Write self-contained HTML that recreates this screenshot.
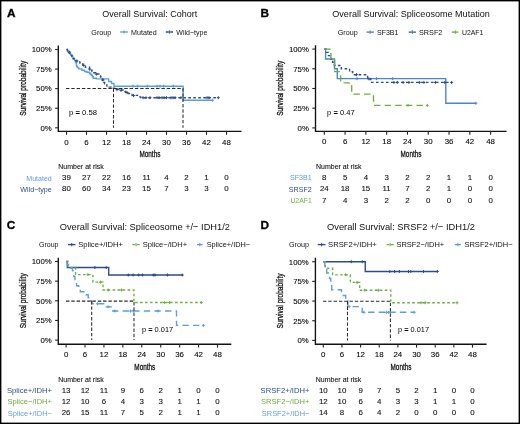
<!DOCTYPE html>
<html><head><meta charset="utf-8"><style>
html,body{margin:0;padding:0;background:#fff;}
svg{display:block;font-family:"Liberation Sans", sans-serif;will-change:transform;filter:blur(0.3px);}
</style></head><body>
<svg width="520" height="424" viewBox="0 0 520 424">
<rect x="0" y="0" width="520" height="424" fill="#fff"/>
<text x="7" y="16.8" font-size="11.8" fill="#000" font-weight="bold" stroke="#000" stroke-width="0.3">A</text>
<text x="102.25" y="17" font-size="9.8" fill="#111" textLength="95" lengthAdjust="spacingAndGlyphs">Overall Survival: Cohort</text>
<text x="91.3" y="34.5" font-size="7.6" fill="#111" textLength="20" lengthAdjust="spacingAndGlyphs">Group</text>
<line x1="120.2" y1="32" x2="127.9" y2="32" stroke="#5c9edc" stroke-width="1.4"/>
<line x1="124.05" y1="30.3" x2="124.05" y2="33.7" stroke="#5c9edc" stroke-width="1"/>
<text x="131.1" y="34.5" font-size="7.6" fill="#111" textLength="25.7" lengthAdjust="spacingAndGlyphs">Mutated</text>
<line x1="165.8" y1="32" x2="173" y2="32" stroke="#2d4c8d" stroke-width="1.4" stroke-dasharray="3,1.4"/>
<line x1="169.4" y1="30.3" x2="169.4" y2="33.7" stroke="#2d4c8d" stroke-width="1"/>
<text x="176.3" y="34.5" font-size="7.6" fill="#111" textLength="31" lengthAdjust="spacingAndGlyphs">Wild−type</text>
<path d="M58.3,45.4V131.4H241.5" fill="none" stroke="#111" stroke-width="1.35"/>
<line x1="55.1" y1="127.8" x2="58.3" y2="127.8" stroke="#222" stroke-width="1.1"/>
<text x="51.7" y="130.6" font-size="7.8" text-anchor="end" stroke="#1a1a1a" stroke-width="0.1">0%</text>
<line x1="55.1" y1="108.22" x2="58.3" y2="108.22" stroke="#222" stroke-width="1.1"/>
<text x="51.7" y="111.02" font-size="7.8" text-anchor="end" stroke="#1a1a1a" stroke-width="0.1">25%</text>
<line x1="55.1" y1="88.65" x2="58.3" y2="88.65" stroke="#222" stroke-width="1.1"/>
<text x="51.7" y="91.45" font-size="7.8" text-anchor="end" stroke="#1a1a1a" stroke-width="0.1">50%</text>
<line x1="55.1" y1="69.07" x2="58.3" y2="69.07" stroke="#222" stroke-width="1.1"/>
<text x="51.7" y="71.87" font-size="7.8" text-anchor="end" stroke="#1a1a1a" stroke-width="0.1">75%</text>
<line x1="55.1" y1="49.5" x2="58.3" y2="49.5" stroke="#222" stroke-width="1.1"/>
<text x="51.7" y="52.3" font-size="7.8" text-anchor="end" stroke="#1a1a1a" stroke-width="0.1">100%</text>
<line x1="66.5" y1="131.4" x2="66.5" y2="134.8" stroke="#222" stroke-width="1.1"/>
<text x="66.5" y="144.7" font-size="7.9" text-anchor="middle" stroke="#1a1a1a" stroke-width="0.1">0</text>
<line x1="86.5" y1="131.4" x2="86.5" y2="134.8" stroke="#222" stroke-width="1.1"/>
<text x="86.5" y="144.7" font-size="7.9" text-anchor="middle" stroke="#1a1a1a" stroke-width="0.1">6</text>
<line x1="106.5" y1="131.4" x2="106.5" y2="134.8" stroke="#222" stroke-width="1.1"/>
<text x="106.5" y="144.7" font-size="7.9" text-anchor="middle" stroke="#1a1a1a" stroke-width="0.1">12</text>
<line x1="126.5" y1="131.4" x2="126.5" y2="134.8" stroke="#222" stroke-width="1.1"/>
<text x="126.5" y="144.7" font-size="7.9" text-anchor="middle" stroke="#1a1a1a" stroke-width="0.1">18</text>
<line x1="146.5" y1="131.4" x2="146.5" y2="134.8" stroke="#222" stroke-width="1.1"/>
<text x="146.5" y="144.7" font-size="7.9" text-anchor="middle" stroke="#1a1a1a" stroke-width="0.1">24</text>
<line x1="166.5" y1="131.4" x2="166.5" y2="134.8" stroke="#222" stroke-width="1.1"/>
<text x="166.5" y="144.7" font-size="7.9" text-anchor="middle" stroke="#1a1a1a" stroke-width="0.1">30</text>
<line x1="186.5" y1="131.4" x2="186.5" y2="134.8" stroke="#222" stroke-width="1.1"/>
<text x="186.5" y="144.7" font-size="7.9" text-anchor="middle" stroke="#1a1a1a" stroke-width="0.1">36</text>
<line x1="206.5" y1="131.4" x2="206.5" y2="134.8" stroke="#222" stroke-width="1.1"/>
<text x="206.5" y="144.7" font-size="7.9" text-anchor="middle" stroke="#1a1a1a" stroke-width="0.1">42</text>
<line x1="226.5" y1="131.4" x2="226.5" y2="134.8" stroke="#222" stroke-width="1.1"/>
<text x="226.5" y="144.7" font-size="7.9" text-anchor="middle" stroke="#1a1a1a" stroke-width="0.1">48</text>
<text x="149.9" y="157.4" font-size="9.6" text-anchor="middle" fill="#111" textLength="21" lengthAdjust="spacingAndGlyphs" stroke="#111" stroke-width="0.3">Months</text>
<text x="0" y="0" font-size="9.6" stroke="#111" stroke-width="0.3" text-anchor="middle" textLength="55" lengthAdjust="spacingAndGlyphs" fill="#111" transform="translate(26.3,88.3) rotate(-90)">Survival probability</text>
<path d="M66.5,49.5H67.35V50.6H68.05V51.7H68.75V52.8H69.67V53.93H70.8V55.07H71.93V56.2H72.92V57.6H73.75V59H74.58V60.4H75.33V61.7H75.97V63H76.37V64.13H76.5V65.27H76.63V66.4H77.35V67.65H78.65V68.9H81.8V70.2H84.4V71.5H86.9V72.3H89.5V73.2H90.12V74.25H91.38V75.3H92.42V76.8H93.28V78.3H96.3V78.9H108.7V81.5H111.5V83.5H113.9V86.2H183.1V100.3H212.7" fill="none" stroke="#5c9edc" stroke-width="1.38"/>
<path d="M131.5,86.2H134.5M133,84.7V87.7" stroke="#5c9edc" stroke-width="1"/>
<path d="M136.2,86.2H139.2M137.7,84.7V87.7" stroke="#5c9edc" stroke-width="1"/>
<path d="M145.8,86.2H148.8M147.3,84.7V87.7" stroke="#5c9edc" stroke-width="1"/>
<path d="M155.5,86.2H158.5M157,84.7V87.7" stroke="#5c9edc" stroke-width="1"/>
<path d="M158.5,86.2H161.5M160,84.7V87.7" stroke="#5c9edc" stroke-width="1"/>
<path d="M162.2,86.2H165.2M163.7,84.7V87.7" stroke="#5c9edc" stroke-width="1"/>
<path d="M171.8,86.2H174.8M173.3,84.7V87.7" stroke="#5c9edc" stroke-width="1"/>
<path d="M211.2,100.3H214.2M212.7,98.8V101.8" stroke="#5c9edc" stroke-width="1"/>
<path d="M66.5,49.5H67.53V50.7H68.57V51.9H69.62V53.2H70.67V54.5H71.46V55.55H71.99V56.6H72.51V57.65H73.04V58.7H74.15V59.8H75.85V60.9H77.78V61.95H79.92V63H81.62V64.05H82.88V65.1H84.15V66.15H85.45V67.2H89.5V68.9H90.35V70.2H92.05V71.5H93.75V72.75H95.45V74H98.8V75.7H100.5V76.7H100.88V77.87H101.64V79.04H102.39V80.21H103.15V81.39H103.91V82.56H104.66V83.73H105.42V84.9H106.92V86.03H109.15V87.17H111.38V88.3H114.6V89.2H119.2V90H124.6V91.5H125.75V92.5H128.05V93.5H130.15V94.45H132.05V95.4H138.5V96.9H140.8V97.7H218.3" fill="none" stroke="#2d4c8d" stroke-width="1.38" stroke-dasharray="2.6,2.4"/>
<path d="M141.5,97.7H144.5M143,96.2V99.2" stroke="#2d4c8d" stroke-width="1"/>
<path d="M144.5,97.7H147.5M146,96.2V99.2" stroke="#2d4c8d" stroke-width="1"/>
<path d="M148.5,97.7H151.5M150,96.2V99.2" stroke="#2d4c8d" stroke-width="1"/>
<path d="M155.5,97.7H158.5M157,96.2V99.2" stroke="#2d4c8d" stroke-width="1"/>
<path d="M157.5,97.7H160.5M159,96.2V99.2" stroke="#2d4c8d" stroke-width="1"/>
<path d="M160.5,97.7H163.5M162,96.2V99.2" stroke="#2d4c8d" stroke-width="1"/>
<path d="M162.5,97.7H165.5M164,96.2V99.2" stroke="#2d4c8d" stroke-width="1"/>
<path d="M165,97.7H168M166.5,96.2V99.2" stroke="#2d4c8d" stroke-width="1"/>
<path d="M169.5,97.7H172.5M171,96.2V99.2" stroke="#2d4c8d" stroke-width="1"/>
<path d="M171.5,97.7H174.5M173,96.2V99.2" stroke="#2d4c8d" stroke-width="1"/>
<path d="M173.5,97.7H176.5M175,96.2V99.2" stroke="#2d4c8d" stroke-width="1"/>
<path d="M179.5,97.7H182.5M181,96.2V99.2" stroke="#2d4c8d" stroke-width="1"/>
<path d="M205.5,97.7H208.5M207,96.2V99.2" stroke="#2d4c8d" stroke-width="1"/>
<path d="M207.5,97.7H210.5M209,96.2V99.2" stroke="#2d4c8d" stroke-width="1"/>
<path d="M216.8,97.7H219.8M218.3,96.2V99.2" stroke="#2d4c8d" stroke-width="1"/>
<path d="M115.5,89.6H118.5M117,88.1V91.1" stroke="#2d4c8d" stroke-width="1"/>
<path d="M119.5,90.4H122.5M121,88.9V91.9" stroke="#2d4c8d" stroke-width="1"/>
<path d="M125.5,92.5H128.5M127,91V94" stroke="#2d4c8d" stroke-width="1"/>
<path d="M132,95.6H135M133.5,94.1V97.1" stroke="#2d4c8d" stroke-width="1"/>
<path d="M67.8,52.2H70.8M69.3,50.7V53.7" stroke="#2d4c8d" stroke-width="1"/>
<path d="M75.4,61H78.4M76.9,59.5V62.5" stroke="#2d4c8d" stroke-width="1"/>
<path d="M82.2,65.3H85.2M83.7,63.8V66.8" stroke="#2d4c8d" stroke-width="1"/>
<path d="M88.2,69.1H91.2M89.7,67.6V70.6" stroke="#2d4c8d" stroke-width="1"/>
<path d="M94.8,74.1H97.8M96.3,72.6V75.6" stroke="#2d4c8d" stroke-width="1"/>
<path d="M101.5,80H104.5M103,78.5V81.5" stroke="#2d4c8d" stroke-width="1"/>
<path d="M66,88.5H183V127.8" fill="none" stroke="#2a2a2a" stroke-width="1.05" stroke-dasharray="3.4,1.9"/>
<path d="M113.5,88.5V127.8" fill="none" stroke="#2a2a2a" stroke-width="1.05" stroke-dasharray="3.4,1.9"/>
<text x="69" y="114.5" font-size="7.5" textLength="28" lengthAdjust="spacingAndGlyphs">p <tspan font-weight="bold">=</tspan> 0.58</text>
<text x="58.3" y="168.9" font-size="7.4" fill="#111" stroke="#111" stroke-width="0.1" textLength="45.5" lengthAdjust="spacingAndGlyphs">Number at risk</text>
<text x="51.8" y="180.5" font-size="7.7" text-anchor="end" fill="#5c9edc" textLength="25.5" lengthAdjust="spacingAndGlyphs">Mutated</text>
<text x="66.5" y="180.2" font-size="7.9" text-anchor="middle" fill="#111" stroke="#111" stroke-width="0.1">39</text>
<text x="86.5" y="180.2" font-size="7.9" text-anchor="middle" fill="#111" stroke="#111" stroke-width="0.1">27</text>
<text x="106.5" y="180.2" font-size="7.9" text-anchor="middle" fill="#111" stroke="#111" stroke-width="0.1">22</text>
<text x="126.5" y="180.2" font-size="7.9" text-anchor="middle" fill="#111" stroke="#111" stroke-width="0.1">16</text>
<text x="146.5" y="180.2" font-size="7.9" text-anchor="middle" fill="#111" stroke="#111" stroke-width="0.1">11</text>
<text x="166.5" y="180.2" font-size="7.9" text-anchor="middle" fill="#111" stroke="#111" stroke-width="0.1">4</text>
<text x="186.5" y="180.2" font-size="7.9" text-anchor="middle" fill="#111" stroke="#111" stroke-width="0.1">2</text>
<text x="206.5" y="180.2" font-size="7.9" text-anchor="middle" fill="#111" stroke="#111" stroke-width="0.1">1</text>
<text x="226.5" y="180.2" font-size="7.9" text-anchor="middle" fill="#111" stroke="#111" stroke-width="0.1">0</text>
<text x="51.8" y="191.7" font-size="7.7" text-anchor="end" fill="#2d4c8d" textLength="31.5" lengthAdjust="spacingAndGlyphs">Wild−type</text>
<text x="66.5" y="191.4" font-size="7.9" text-anchor="middle" fill="#111" stroke="#111" stroke-width="0.1">80</text>
<text x="86.5" y="191.4" font-size="7.9" text-anchor="middle" fill="#111" stroke="#111" stroke-width="0.1">60</text>
<text x="106.5" y="191.4" font-size="7.9" text-anchor="middle" fill="#111" stroke="#111" stroke-width="0.1">34</text>
<text x="126.5" y="191.4" font-size="7.9" text-anchor="middle" fill="#111" stroke="#111" stroke-width="0.1">23</text>
<text x="146.5" y="191.4" font-size="7.9" text-anchor="middle" fill="#111" stroke="#111" stroke-width="0.1">15</text>
<text x="166.5" y="191.4" font-size="7.9" text-anchor="middle" fill="#111" stroke="#111" stroke-width="0.1">7</text>
<text x="186.5" y="191.4" font-size="7.9" text-anchor="middle" fill="#111" stroke="#111" stroke-width="0.1">3</text>
<text x="206.5" y="191.4" font-size="7.9" text-anchor="middle" fill="#111" stroke="#111" stroke-width="0.1">3</text>
<text x="226.5" y="191.4" font-size="7.9" text-anchor="middle" fill="#111" stroke="#111" stroke-width="0.1">0</text>
<text x="260.6" y="16.8" font-size="11.8" fill="#000" font-weight="bold" stroke="#000" stroke-width="0.3">B</text>
<text x="332.3" y="17.2" font-size="9.8" fill="#111" textLength="157.5" lengthAdjust="spacingAndGlyphs">Overall Survival: Spliceosome Mutation</text>
<text x="337.7" y="34.6" font-size="7.6" fill="#111" textLength="20" lengthAdjust="spacingAndGlyphs">Group</text>
<line x1="366.5" y1="32.1" x2="373.8" y2="32.1" stroke="#4a86c9" stroke-width="1.4"/>
<line x1="370.15" y1="30.4" x2="370.15" y2="33.8" stroke="#4a86c9" stroke-width="1"/>
<text x="376.9" y="34.6" font-size="7.6" fill="#111" textLength="21.6" lengthAdjust="spacingAndGlyphs">SF3B1</text>
<line x1="408.7" y1="32.1" x2="415.9" y2="32.1" stroke="#2d4c8d" stroke-width="1.4" stroke-dasharray="3,1.4"/>
<line x1="412.3" y1="30.4" x2="412.3" y2="33.8" stroke="#2d4c8d" stroke-width="1"/>
<text x="419" y="34.6" font-size="7.6" fill="#111" textLength="23.4" lengthAdjust="spacingAndGlyphs">SRSF2</text>
<line x1="451.9" y1="32.1" x2="458.8" y2="32.1" stroke="#6cae3f" stroke-width="1.4" stroke-dasharray="6.4,4.2"/>
<line x1="455.35" y1="30.4" x2="455.35" y2="33.8" stroke="#6cae3f" stroke-width="1"/>
<text x="461.9" y="34.6" font-size="7.6" fill="#111" textLength="21.5" lengthAdjust="spacingAndGlyphs">U2AF1</text>
<path d="M315.5,45.3V131.35H506.5" fill="none" stroke="#111" stroke-width="1.35"/>
<line x1="312.3" y1="127.9" x2="315.5" y2="127.9" stroke="#222" stroke-width="1.1"/>
<text x="308.9" y="130.7" font-size="7.8" text-anchor="end" stroke="#1a1a1a" stroke-width="0.1">0%</text>
<line x1="312.3" y1="108.2" x2="315.5" y2="108.2" stroke="#222" stroke-width="1.1"/>
<text x="308.9" y="111" font-size="7.8" text-anchor="end" stroke="#1a1a1a" stroke-width="0.1">25%</text>
<line x1="312.3" y1="88.5" x2="315.5" y2="88.5" stroke="#222" stroke-width="1.1"/>
<text x="308.9" y="91.3" font-size="7.8" text-anchor="end" stroke="#1a1a1a" stroke-width="0.1">50%</text>
<line x1="312.3" y1="68.8" x2="315.5" y2="68.8" stroke="#222" stroke-width="1.1"/>
<text x="308.9" y="71.6" font-size="7.8" text-anchor="end" stroke="#1a1a1a" stroke-width="0.1">75%</text>
<line x1="312.3" y1="49.1" x2="315.5" y2="49.1" stroke="#222" stroke-width="1.1"/>
<text x="308.9" y="51.9" font-size="7.8" text-anchor="end" stroke="#1a1a1a" stroke-width="0.1">100%</text>
<line x1="324.3" y1="131.35" x2="324.3" y2="134.75" stroke="#222" stroke-width="1.1"/>
<text x="324.3" y="144.25" font-size="7.9" text-anchor="middle" stroke="#1a1a1a" stroke-width="0.1">0</text>
<line x1="345.09" y1="131.35" x2="345.09" y2="134.75" stroke="#222" stroke-width="1.1"/>
<text x="345.09" y="144.25" font-size="7.9" text-anchor="middle" stroke="#1a1a1a" stroke-width="0.1">6</text>
<line x1="365.88" y1="131.35" x2="365.88" y2="134.75" stroke="#222" stroke-width="1.1"/>
<text x="365.88" y="144.25" font-size="7.9" text-anchor="middle" stroke="#1a1a1a" stroke-width="0.1">12</text>
<line x1="386.67" y1="131.35" x2="386.67" y2="134.75" stroke="#222" stroke-width="1.1"/>
<text x="386.67" y="144.25" font-size="7.9" text-anchor="middle" stroke="#1a1a1a" stroke-width="0.1">18</text>
<line x1="407.46" y1="131.35" x2="407.46" y2="134.75" stroke="#222" stroke-width="1.1"/>
<text x="407.46" y="144.25" font-size="7.9" text-anchor="middle" stroke="#1a1a1a" stroke-width="0.1">24</text>
<line x1="428.25" y1="131.35" x2="428.25" y2="134.75" stroke="#222" stroke-width="1.1"/>
<text x="428.25" y="144.25" font-size="7.9" text-anchor="middle" stroke="#1a1a1a" stroke-width="0.1">30</text>
<line x1="449.04" y1="131.35" x2="449.04" y2="134.75" stroke="#222" stroke-width="1.1"/>
<text x="449.04" y="144.25" font-size="7.9" text-anchor="middle" stroke="#1a1a1a" stroke-width="0.1">36</text>
<line x1="469.83" y1="131.35" x2="469.83" y2="134.75" stroke="#222" stroke-width="1.1"/>
<text x="469.83" y="144.25" font-size="7.9" text-anchor="middle" stroke="#1a1a1a" stroke-width="0.1">42</text>
<line x1="490.62" y1="131.35" x2="490.62" y2="134.75" stroke="#222" stroke-width="1.1"/>
<text x="490.62" y="144.25" font-size="7.9" text-anchor="middle" stroke="#1a1a1a" stroke-width="0.1">48</text>
<text x="411" y="157.35" font-size="9.6" text-anchor="middle" fill="#111" textLength="21" lengthAdjust="spacingAndGlyphs" stroke="#111" stroke-width="0.3">Months</text>
<text x="0" y="0" font-size="9.6" stroke="#111" stroke-width="0.3" text-anchor="middle" textLength="55" lengthAdjust="spacingAndGlyphs" fill="#111" transform="translate(283.4,88.3) rotate(-90)">Survival probability</text>
<path d="M324.3,49.1H325.6V58.95H334.5V68.8H337.3V78.65H445.8V103.28H475.8" fill="none" stroke="#4a86c9" stroke-width="1.38"/>
<path d="M355.5,78.65H358.5M357,77.15V80.15" stroke="#4a86c9" stroke-width="1"/>
<path d="M375,78.65H378M376.5,77.15V80.15" stroke="#4a86c9" stroke-width="1"/>
<path d="M391.2,78.65H394.2M392.7,77.15V80.15" stroke="#4a86c9" stroke-width="1"/>
<path d="M474.3,103.28H477.3M475.8,101.78V104.78" stroke="#4a86c9" stroke-width="1"/>
<path d="M324.3,49.1H326.38V52.41H328.46V55.64H330.88V58.95H332.62V62.26H334.35V65.49H341.28V68.8H349.59V71.79H352.71V74.71H367.61V78.89H370.73V82.43H451.6" fill="none" stroke="#2d4c8d" stroke-width="1.38" stroke-dasharray="2.6,2.4"/>
<path d="M355,74.71H358M356.5,73.21V76.21" stroke="#2d4c8d" stroke-width="1"/>
<path d="M367.4,78.89H370.4M368.9,77.39V80.39" stroke="#2d4c8d" stroke-width="1"/>
<path d="M392.4,82.43H395.4M393.9,80.93V83.93" stroke="#2d4c8d" stroke-width="1"/>
<path d="M395.8,82.43H398.8M397.3,80.93V83.93" stroke="#2d4c8d" stroke-width="1"/>
<path d="M401.6,82.43H404.6M403.1,80.93V83.93" stroke="#2d4c8d" stroke-width="1"/>
<path d="M407.4,82.43H410.4M408.9,80.93V83.93" stroke="#2d4c8d" stroke-width="1"/>
<path d="M417.8,82.43H420.8M419.3,80.93V83.93" stroke="#2d4c8d" stroke-width="1"/>
<path d="M422.4,82.43H425.4M423.9,80.93V83.93" stroke="#2d4c8d" stroke-width="1"/>
<path d="M433.9,82.43H436.9M435.4,80.93V83.93" stroke="#2d4c8d" stroke-width="1"/>
<path d="M443.2,82.43H446.2M444.7,80.93V83.93" stroke="#2d4c8d" stroke-width="1"/>
<path d="M450.1,82.43H453.1M451.6,80.93V83.93" stroke="#2d4c8d" stroke-width="1"/>
<path d="M324.3,49.1H330.88V60.37H334.69V71.64H340.59V82.91H351.67V94.09H373.5V105.36H427.3" fill="none" stroke="#6cae3f" stroke-width="1.38" stroke-dasharray="6.4,4.2"/>
<path d="M406.5,105.36H409.5M408,103.86V106.86" stroke="#6cae3f" stroke-width="1"/>
<path d="M425.8,105.36H428.8M427.3,103.86V106.86" stroke="#6cae3f" stroke-width="1"/>
<text x="327.1" y="114.5" font-size="7.5" textLength="27.5" lengthAdjust="spacingAndGlyphs">p <tspan font-weight="bold">=</tspan> 0.47</text>
<text x="316" y="169.2" font-size="7.4" fill="#111" stroke="#111" stroke-width="0.1" textLength="45.5" lengthAdjust="spacingAndGlyphs">Number at risk</text>
<text x="311.8" y="180.4" font-size="7.7" text-anchor="end" fill="#5c9edc" textLength="21.8" lengthAdjust="spacingAndGlyphs">SF3B1</text>
<text x="324.3" y="180.1" font-size="7.9" text-anchor="middle" fill="#111" stroke="#111" stroke-width="0.1">8</text>
<text x="345.09" y="180.1" font-size="7.9" text-anchor="middle" fill="#111" stroke="#111" stroke-width="0.1">5</text>
<text x="365.88" y="180.1" font-size="7.9" text-anchor="middle" fill="#111" stroke="#111" stroke-width="0.1">4</text>
<text x="386.67" y="180.1" font-size="7.9" text-anchor="middle" fill="#111" stroke="#111" stroke-width="0.1">3</text>
<text x="407.46" y="180.1" font-size="7.9" text-anchor="middle" fill="#111" stroke="#111" stroke-width="0.1">2</text>
<text x="428.25" y="180.1" font-size="7.9" text-anchor="middle" fill="#111" stroke="#111" stroke-width="0.1">2</text>
<text x="449.04" y="180.1" font-size="7.9" text-anchor="middle" fill="#111" stroke="#111" stroke-width="0.1">1</text>
<text x="469.83" y="180.1" font-size="7.9" text-anchor="middle" fill="#111" stroke="#111" stroke-width="0.1">1</text>
<text x="490.62" y="180.1" font-size="7.9" text-anchor="middle" fill="#111" stroke="#111" stroke-width="0.1">0</text>
<text x="311.8" y="191.7" font-size="7.7" text-anchor="end" fill="#2d4c8d" textLength="23" lengthAdjust="spacingAndGlyphs">SRSF2</text>
<text x="324.3" y="191.4" font-size="7.9" text-anchor="middle" fill="#111" stroke="#111" stroke-width="0.1">24</text>
<text x="345.09" y="191.4" font-size="7.9" text-anchor="middle" fill="#111" stroke="#111" stroke-width="0.1">18</text>
<text x="365.88" y="191.4" font-size="7.9" text-anchor="middle" fill="#111" stroke="#111" stroke-width="0.1">15</text>
<text x="386.67" y="191.4" font-size="7.9" text-anchor="middle" fill="#111" stroke="#111" stroke-width="0.1">11</text>
<text x="407.46" y="191.4" font-size="7.9" text-anchor="middle" fill="#111" stroke="#111" stroke-width="0.1">7</text>
<text x="428.25" y="191.4" font-size="7.9" text-anchor="middle" fill="#111" stroke="#111" stroke-width="0.1">2</text>
<text x="449.04" y="191.4" font-size="7.9" text-anchor="middle" fill="#111" stroke="#111" stroke-width="0.1">1</text>
<text x="469.83" y="191.4" font-size="7.9" text-anchor="middle" fill="#111" stroke="#111" stroke-width="0.1">0</text>
<text x="490.62" y="191.4" font-size="7.9" text-anchor="middle" fill="#111" stroke="#111" stroke-width="0.1">0</text>
<text x="311.8" y="202.8" font-size="7.7" text-anchor="end" fill="#6cae3f" textLength="21.4" lengthAdjust="spacingAndGlyphs">U2AF1</text>
<text x="324.3" y="202.5" font-size="7.9" text-anchor="middle" fill="#111" stroke="#111" stroke-width="0.1">7</text>
<text x="345.09" y="202.5" font-size="7.9" text-anchor="middle" fill="#111" stroke="#111" stroke-width="0.1">4</text>
<text x="365.88" y="202.5" font-size="7.9" text-anchor="middle" fill="#111" stroke="#111" stroke-width="0.1">3</text>
<text x="386.67" y="202.5" font-size="7.9" text-anchor="middle" fill="#111" stroke="#111" stroke-width="0.1">2</text>
<text x="407.46" y="202.5" font-size="7.9" text-anchor="middle" fill="#111" stroke="#111" stroke-width="0.1">2</text>
<text x="428.25" y="202.5" font-size="7.9" text-anchor="middle" fill="#111" stroke="#111" stroke-width="0.1">0</text>
<text x="449.04" y="202.5" font-size="7.9" text-anchor="middle" fill="#111" stroke="#111" stroke-width="0.1">0</text>
<text x="469.83" y="202.5" font-size="7.9" text-anchor="middle" fill="#111" stroke="#111" stroke-width="0.1">0</text>
<text x="490.62" y="202.5" font-size="7.9" text-anchor="middle" fill="#111" stroke="#111" stroke-width="0.1">0</text>
<text x="6.7" y="229.1" font-size="11.8" fill="#000" font-weight="bold" stroke="#000" stroke-width="0.3">C</text>
<text x="59.7" y="229.8" font-size="9.8" fill="#111" textLength="170.2" lengthAdjust="spacingAndGlyphs">Overall Survival: Spliceosome +/− IDH1/2</text>
<text x="38.9" y="247.1" font-size="7.6" fill="#111" textLength="19.6" lengthAdjust="spacingAndGlyphs">Group</text>
<line x1="68" y1="244.6" x2="75.5" y2="244.6" stroke="#2d4c8d" stroke-width="1.4"/>
<line x1="71.75" y1="242.9" x2="71.75" y2="246.3" stroke="#2d4c8d" stroke-width="1"/>
<text x="78.2" y="247.1" font-size="7.6" fill="#111" textLength="44.8" lengthAdjust="spacingAndGlyphs">Splice+/IDH+</text>
<line x1="132.4" y1="244.6" x2="139.7" y2="244.6" stroke="#6cae3f" stroke-width="1.4" stroke-dasharray="3,1.4"/>
<line x1="136.05" y1="242.9" x2="136.05" y2="246.3" stroke="#6cae3f" stroke-width="1"/>
<text x="142.7" y="247.1" font-size="7.6" fill="#111" textLength="44.5" lengthAdjust="spacingAndGlyphs">Splice−/IDH+</text>
<line x1="197" y1="244.6" x2="202.6" y2="244.6" stroke="#5c9edc" stroke-width="1.4" stroke-dasharray="6.4,4.2"/>
<line x1="199.8" y1="242.9" x2="199.8" y2="246.3" stroke="#5c9edc" stroke-width="1"/>
<text x="206.7" y="247.1" font-size="7.6" fill="#111" textLength="43.5" lengthAdjust="spacingAndGlyphs">Splice+/IDH−</text>
<path d="M58.3,257.8V344.2H231.3" fill="none" stroke="#111" stroke-width="1.35"/>
<line x1="55.1" y1="340.1" x2="58.3" y2="340.1" stroke="#222" stroke-width="1.1"/>
<text x="51.7" y="342.9" font-size="7.8" text-anchor="end" stroke="#1a1a1a" stroke-width="0.1">0%</text>
<line x1="55.1" y1="320.45" x2="58.3" y2="320.45" stroke="#222" stroke-width="1.1"/>
<text x="51.7" y="323.25" font-size="7.8" text-anchor="end" stroke="#1a1a1a" stroke-width="0.1">25%</text>
<line x1="55.1" y1="300.8" x2="58.3" y2="300.8" stroke="#222" stroke-width="1.1"/>
<text x="51.7" y="303.6" font-size="7.8" text-anchor="end" stroke="#1a1a1a" stroke-width="0.1">50%</text>
<line x1="55.1" y1="281.15" x2="58.3" y2="281.15" stroke="#222" stroke-width="1.1"/>
<text x="51.7" y="283.95" font-size="7.8" text-anchor="end" stroke="#1a1a1a" stroke-width="0.1">75%</text>
<line x1="55.1" y1="261.5" x2="58.3" y2="261.5" stroke="#222" stroke-width="1.1"/>
<text x="51.7" y="264.3" font-size="7.8" text-anchor="end" stroke="#1a1a1a" stroke-width="0.1">100%</text>
<line x1="66.1" y1="344.2" x2="66.1" y2="347.6" stroke="#222" stroke-width="1.1"/>
<text x="66.1" y="356.9" font-size="7.9" text-anchor="middle" stroke="#1a1a1a" stroke-width="0.1">0</text>
<line x1="85.02" y1="344.2" x2="85.02" y2="347.6" stroke="#222" stroke-width="1.1"/>
<text x="85.02" y="356.9" font-size="7.9" text-anchor="middle" stroke="#1a1a1a" stroke-width="0.1">6</text>
<line x1="103.95" y1="344.2" x2="103.95" y2="347.6" stroke="#222" stroke-width="1.1"/>
<text x="103.95" y="356.9" font-size="7.9" text-anchor="middle" stroke="#1a1a1a" stroke-width="0.1">12</text>
<line x1="122.87" y1="344.2" x2="122.87" y2="347.6" stroke="#222" stroke-width="1.1"/>
<text x="122.87" y="356.9" font-size="7.9" text-anchor="middle" stroke="#1a1a1a" stroke-width="0.1">18</text>
<line x1="141.8" y1="344.2" x2="141.8" y2="347.6" stroke="#222" stroke-width="1.1"/>
<text x="141.8" y="356.9" font-size="7.9" text-anchor="middle" stroke="#1a1a1a" stroke-width="0.1">24</text>
<line x1="160.72" y1="344.2" x2="160.72" y2="347.6" stroke="#222" stroke-width="1.1"/>
<text x="160.72" y="356.9" font-size="7.9" text-anchor="middle" stroke="#1a1a1a" stroke-width="0.1">30</text>
<line x1="179.64" y1="344.2" x2="179.64" y2="347.6" stroke="#222" stroke-width="1.1"/>
<text x="179.64" y="356.9" font-size="7.9" text-anchor="middle" stroke="#1a1a1a" stroke-width="0.1">36</text>
<line x1="198.57" y1="344.2" x2="198.57" y2="347.6" stroke="#222" stroke-width="1.1"/>
<text x="198.57" y="356.9" font-size="7.9" text-anchor="middle" stroke="#1a1a1a" stroke-width="0.1">42</text>
<line x1="217.49" y1="344.2" x2="217.49" y2="347.6" stroke="#222" stroke-width="1.1"/>
<text x="217.49" y="356.9" font-size="7.9" text-anchor="middle" stroke="#1a1a1a" stroke-width="0.1">48</text>
<text x="144.8" y="370.2" font-size="9.6" text-anchor="middle" fill="#111" textLength="21" lengthAdjust="spacingAndGlyphs" stroke="#111" stroke-width="0.3">Months</text>
<text x="0" y="0" font-size="9.6" stroke="#111" stroke-width="0.3" text-anchor="middle" textLength="55" lengthAdjust="spacingAndGlyphs" fill="#111" transform="translate(26.3,300.8) rotate(-90)">Survival probability</text>
<path d="M66.1,261.5H67.36V267.55H108.68V275.02H182.3" fill="none" stroke="#2d4c8d" stroke-width="1.38"/>
<path d="M93.4,267.55H96.4M94.9,266.05V269.05" stroke="#2d4c8d" stroke-width="1"/>
<path d="M104.7,267.55H107.7M106.2,266.05V269.05" stroke="#2d4c8d" stroke-width="1"/>
<path d="M126.8,275.02H129.8M128.3,273.52V276.52" stroke="#2d4c8d" stroke-width="1"/>
<path d="M131.6,275.02H134.6M133.1,273.52V276.52" stroke="#2d4c8d" stroke-width="1"/>
<path d="M137.3,275.02H140.3M138.8,273.52V276.52" stroke="#2d4c8d" stroke-width="1"/>
<path d="M141,275.02H144M142.5,273.52V276.52" stroke="#2d4c8d" stroke-width="1"/>
<path d="M151.8,275.02H154.8M153.3,273.52V276.52" stroke="#2d4c8d" stroke-width="1"/>
<path d="M153.5,275.02H156.5M155,273.52V276.52" stroke="#2d4c8d" stroke-width="1"/>
<path d="M166,275.02H169M167.5,273.52V276.52" stroke="#2d4c8d" stroke-width="1"/>
<path d="M180.8,275.02H183.8M182.3,273.52V276.52" stroke="#2d4c8d" stroke-width="1"/>
<path d="M66.1,261.5H67.99V268.02H75.56V274.63H92.91V282.17H103V290.03H133.91V302.53H201.3" fill="none" stroke="#6cae3f" stroke-width="1.38" stroke-dasharray="2.6,2.4"/>
<path d="M86.4,274.63H89.4M87.9,273.13V276.13" stroke="#6cae3f" stroke-width="1"/>
<path d="M98.9,282.17H101.9M100.4,280.67V283.67" stroke="#6cae3f" stroke-width="1"/>
<path d="M106.6,290.03H109.6M108.1,288.53V291.53" stroke="#6cae3f" stroke-width="1"/>
<path d="M120,290.03H123M121.5,288.53V291.53" stroke="#6cae3f" stroke-width="1"/>
<path d="M162.8,302.53H165.8M164.3,301.03V304.03" stroke="#6cae3f" stroke-width="1"/>
<path d="M168.1,302.53H171.1M169.6,301.03V304.03" stroke="#6cae3f" stroke-width="1"/>
<path d="M199.8,302.53H202.8M201.3,301.03V304.03" stroke="#6cae3f" stroke-width="1"/>
<path d="M66.1,261.5H67.05V264.49H68.62V267.55H72.41V270.54H73.04V273.6H73.83V276.59H74.93V279.66H75.56V282.64H76.51V285.71H78.72V288.7H80.29V291.76H85.97V294.75H88.18V297.81H91.02V300.8H91.65V303.79H104.89V306.85H111.2V311.02H176.49V325.4H203.4" fill="none" stroke="#5c9edc" stroke-width="1.38" stroke-dasharray="6.4,4.2"/>
<path d="M96,303.79H99M97.5,302.29V305.29" stroke="#5c9edc" stroke-width="1"/>
<path d="M106.6,306.85H109.6M108.1,305.35V308.35" stroke="#5c9edc" stroke-width="1"/>
<path d="M113.3,311.02H116.3M114.8,309.52V312.52" stroke="#5c9edc" stroke-width="1"/>
<path d="M129,311.02H132M130.5,309.52V312.52" stroke="#5c9edc" stroke-width="1"/>
<path d="M131.5,311.02H134.5M133,309.52V312.52" stroke="#5c9edc" stroke-width="1"/>
<path d="M156.5,311.02H159.5M158,309.52V312.52" stroke="#5c9edc" stroke-width="1"/>
<path d="M201.9,325.4H204.9M203.4,323.9V326.9" stroke="#5c9edc" stroke-width="1"/>
<path d="M66,301.1H134V340.1" fill="none" stroke="#2a2a2a" stroke-width="1.05" stroke-dasharray="3.4,1.9"/>
<path d="M91.7,301.1V340.1" fill="none" stroke="#2a2a2a" stroke-width="1.05" stroke-dasharray="3.4,1.9"/>
<text x="142" y="331.7" font-size="7.5" textLength="31.2" lengthAdjust="spacingAndGlyphs">p <tspan font-weight="bold">=</tspan> 0.017</text>
<text x="58.2" y="381.8" font-size="7.4" fill="#111" stroke="#111" stroke-width="0.1" textLength="45.5" lengthAdjust="spacingAndGlyphs">Number at risk</text>
<text x="52" y="393.2" font-size="7.7" text-anchor="end" fill="#2d4c8d" textLength="45.1" lengthAdjust="spacingAndGlyphs">Splice+/IDH+</text>
<text x="66.1" y="392.9" font-size="7.9" text-anchor="middle" fill="#111" stroke="#111" stroke-width="0.1">13</text>
<text x="85.02" y="392.9" font-size="7.9" text-anchor="middle" fill="#111" stroke="#111" stroke-width="0.1">12</text>
<text x="103.95" y="392.9" font-size="7.9" text-anchor="middle" fill="#111" stroke="#111" stroke-width="0.1">11</text>
<text x="122.87" y="392.9" font-size="7.9" text-anchor="middle" fill="#111" stroke="#111" stroke-width="0.1">9</text>
<text x="141.8" y="392.9" font-size="7.9" text-anchor="middle" fill="#111" stroke="#111" stroke-width="0.1">6</text>
<text x="160.72" y="392.9" font-size="7.9" text-anchor="middle" fill="#111" stroke="#111" stroke-width="0.1">2</text>
<text x="179.64" y="392.9" font-size="7.9" text-anchor="middle" fill="#111" stroke="#111" stroke-width="0.1">1</text>
<text x="198.57" y="392.9" font-size="7.9" text-anchor="middle" fill="#111" stroke="#111" stroke-width="0.1">0</text>
<text x="217.49" y="392.9" font-size="7.9" text-anchor="middle" fill="#111" stroke="#111" stroke-width="0.1">0</text>
<text x="52" y="404.3" font-size="7.7" text-anchor="end" fill="#6cae3f" textLength="44.6" lengthAdjust="spacingAndGlyphs">Splice−/IDH+</text>
<text x="66.1" y="404" font-size="7.9" text-anchor="middle" fill="#111" stroke="#111" stroke-width="0.1">12</text>
<text x="85.02" y="404" font-size="7.9" text-anchor="middle" fill="#111" stroke="#111" stroke-width="0.1">10</text>
<text x="103.95" y="404" font-size="7.9" text-anchor="middle" fill="#111" stroke="#111" stroke-width="0.1">6</text>
<text x="122.87" y="404" font-size="7.9" text-anchor="middle" fill="#111" stroke="#111" stroke-width="0.1">4</text>
<text x="141.8" y="404" font-size="7.9" text-anchor="middle" fill="#111" stroke="#111" stroke-width="0.1">3</text>
<text x="160.72" y="404" font-size="7.9" text-anchor="middle" fill="#111" stroke="#111" stroke-width="0.1">3</text>
<text x="179.64" y="404" font-size="7.9" text-anchor="middle" fill="#111" stroke="#111" stroke-width="0.1">1</text>
<text x="198.57" y="404" font-size="7.9" text-anchor="middle" fill="#111" stroke="#111" stroke-width="0.1">1</text>
<text x="217.49" y="404" font-size="7.9" text-anchor="middle" fill="#111" stroke="#111" stroke-width="0.1">0</text>
<text x="52" y="415.5" font-size="7.7" text-anchor="end" fill="#5c9edc" textLength="44.3" lengthAdjust="spacingAndGlyphs">Splice+/IDH−</text>
<text x="66.1" y="415.2" font-size="7.9" text-anchor="middle" fill="#111" stroke="#111" stroke-width="0.1">26</text>
<text x="85.02" y="415.2" font-size="7.9" text-anchor="middle" fill="#111" stroke="#111" stroke-width="0.1">15</text>
<text x="103.95" y="415.2" font-size="7.9" text-anchor="middle" fill="#111" stroke="#111" stroke-width="0.1">11</text>
<text x="122.87" y="415.2" font-size="7.9" text-anchor="middle" fill="#111" stroke="#111" stroke-width="0.1">7</text>
<text x="141.8" y="415.2" font-size="7.9" text-anchor="middle" fill="#111" stroke="#111" stroke-width="0.1">5</text>
<text x="160.72" y="415.2" font-size="7.9" text-anchor="middle" fill="#111" stroke="#111" stroke-width="0.1">2</text>
<text x="179.64" y="415.2" font-size="7.9" text-anchor="middle" fill="#111" stroke="#111" stroke-width="0.1">1</text>
<text x="198.57" y="415.2" font-size="7.9" text-anchor="middle" fill="#111" stroke="#111" stroke-width="0.1">1</text>
<text x="217.49" y="415.2" font-size="7.9" text-anchor="middle" fill="#111" stroke="#111" stroke-width="0.1">0</text>
<text x="260.4" y="229.1" font-size="11.8" fill="#000" font-weight="bold" stroke="#000" stroke-width="0.3">D</text>
<text x="327" y="229.8" font-size="9.8" fill="#111" textLength="147.9" lengthAdjust="spacingAndGlyphs">Overall Survival: SRSF2 +/− IDH1/2</text>
<text x="289" y="247.1" font-size="7.6" fill="#111" textLength="19.9" lengthAdjust="spacingAndGlyphs">Group</text>
<line x1="317.7" y1="244.6" x2="325.5" y2="244.6" stroke="#2d4c8d" stroke-width="1.4"/>
<line x1="321.6" y1="242.9" x2="321.6" y2="246.3" stroke="#2d4c8d" stroke-width="1"/>
<text x="328.1" y="247.1" font-size="7.6" fill="#111" textLength="48.7" lengthAdjust="spacingAndGlyphs">SRSF2+/IDH+</text>
<line x1="386.6" y1="244.6" x2="393.8" y2="244.6" stroke="#6cae3f" stroke-width="1.4" stroke-dasharray="3,1.4"/>
<line x1="390.2" y1="242.9" x2="390.2" y2="246.3" stroke="#6cae3f" stroke-width="1"/>
<text x="396.4" y="247.1" font-size="7.6" fill="#111" textLength="47.8" lengthAdjust="spacingAndGlyphs">SRSF2−/IDH+</text>
<line x1="454.8" y1="244.6" x2="460.9" y2="244.6" stroke="#5c9edc" stroke-width="1.4" stroke-dasharray="6.4,4.2"/>
<line x1="457.85" y1="242.9" x2="457.85" y2="246.3" stroke="#5c9edc" stroke-width="1"/>
<text x="464.4" y="247.1" font-size="7.6" fill="#111" textLength="48.2" lengthAdjust="spacingAndGlyphs">SRSF2+/IDH−</text>
<path d="M315.4,257.8V344.2H486.6" fill="none" stroke="#111" stroke-width="1.35"/>
<line x1="312.2" y1="340.4" x2="315.4" y2="340.4" stroke="#222" stroke-width="1.1"/>
<text x="308.8" y="343.2" font-size="7.8" text-anchor="end" stroke="#1a1a1a" stroke-width="0.1">0%</text>
<line x1="312.2" y1="320.72" x2="315.4" y2="320.72" stroke="#222" stroke-width="1.1"/>
<text x="308.8" y="323.52" font-size="7.8" text-anchor="end" stroke="#1a1a1a" stroke-width="0.1">25%</text>
<line x1="312.2" y1="301.05" x2="315.4" y2="301.05" stroke="#222" stroke-width="1.1"/>
<text x="308.8" y="303.85" font-size="7.8" text-anchor="end" stroke="#1a1a1a" stroke-width="0.1">50%</text>
<line x1="312.2" y1="281.38" x2="315.4" y2="281.38" stroke="#222" stroke-width="1.1"/>
<text x="308.8" y="284.18" font-size="7.8" text-anchor="end" stroke="#1a1a1a" stroke-width="0.1">75%</text>
<line x1="312.2" y1="261.7" x2="315.4" y2="261.7" stroke="#222" stroke-width="1.1"/>
<text x="308.8" y="264.5" font-size="7.8" text-anchor="end" stroke="#1a1a1a" stroke-width="0.1">100%</text>
<line x1="323.3" y1="344.2" x2="323.3" y2="347.6" stroke="#222" stroke-width="1.1"/>
<text x="323.3" y="356.9" font-size="7.9" text-anchor="middle" stroke="#1a1a1a" stroke-width="0.1">0</text>
<line x1="341.95" y1="344.2" x2="341.95" y2="347.6" stroke="#222" stroke-width="1.1"/>
<text x="341.95" y="356.9" font-size="7.9" text-anchor="middle" stroke="#1a1a1a" stroke-width="0.1">6</text>
<line x1="360.6" y1="344.2" x2="360.6" y2="347.6" stroke="#222" stroke-width="1.1"/>
<text x="360.6" y="356.9" font-size="7.9" text-anchor="middle" stroke="#1a1a1a" stroke-width="0.1">12</text>
<line x1="379.24" y1="344.2" x2="379.24" y2="347.6" stroke="#222" stroke-width="1.1"/>
<text x="379.24" y="356.9" font-size="7.9" text-anchor="middle" stroke="#1a1a1a" stroke-width="0.1">18</text>
<line x1="397.89" y1="344.2" x2="397.89" y2="347.6" stroke="#222" stroke-width="1.1"/>
<text x="397.89" y="356.9" font-size="7.9" text-anchor="middle" stroke="#1a1a1a" stroke-width="0.1">24</text>
<line x1="416.54" y1="344.2" x2="416.54" y2="347.6" stroke="#222" stroke-width="1.1"/>
<text x="416.54" y="356.9" font-size="7.9" text-anchor="middle" stroke="#1a1a1a" stroke-width="0.1">30</text>
<line x1="435.19" y1="344.2" x2="435.19" y2="347.6" stroke="#222" stroke-width="1.1"/>
<text x="435.19" y="356.9" font-size="7.9" text-anchor="middle" stroke="#1a1a1a" stroke-width="0.1">36</text>
<line x1="453.84" y1="344.2" x2="453.84" y2="347.6" stroke="#222" stroke-width="1.1"/>
<text x="453.84" y="356.9" font-size="7.9" text-anchor="middle" stroke="#1a1a1a" stroke-width="0.1">42</text>
<line x1="472.48" y1="344.2" x2="472.48" y2="347.6" stroke="#222" stroke-width="1.1"/>
<text x="472.48" y="356.9" font-size="7.9" text-anchor="middle" stroke="#1a1a1a" stroke-width="0.1">48</text>
<text x="401" y="370.2" font-size="9.6" text-anchor="middle" fill="#111" textLength="21" lengthAdjust="spacingAndGlyphs" stroke="#111" stroke-width="0.3">Months</text>
<text x="0" y="0" font-size="9.6" stroke="#111" stroke-width="0.3" text-anchor="middle" textLength="55" lengthAdjust="spacingAndGlyphs" fill="#111" transform="translate(283.4,300.9) rotate(-90)">Survival probability</text>
<path d="M323.3,261.7H365.26V271.54H437.3" fill="none" stroke="#2d4c8d" stroke-width="1.38"/>
<path d="M349.8,261.7H352.8M351.3,260.2V263.2" stroke="#2d4c8d" stroke-width="1"/>
<path d="M360.8,261.7H363.8M362.3,260.2V263.2" stroke="#2d4c8d" stroke-width="1"/>
<path d="M388.3,271.54H391.3M389.8,270.04V273.04" stroke="#2d4c8d" stroke-width="1"/>
<path d="M393.1,271.54H396.1M394.6,270.04V273.04" stroke="#2d4c8d" stroke-width="1"/>
<path d="M397.9,271.54H400.9M399.4,270.04V273.04" stroke="#2d4c8d" stroke-width="1"/>
<path d="M407,271.54H410M408.5,270.04V273.04" stroke="#2d4c8d" stroke-width="1"/>
<path d="M409.3,271.54H412.3M410.8,270.04V273.04" stroke="#2d4c8d" stroke-width="1"/>
<path d="M422,271.54H425M423.5,270.04V273.04" stroke="#2d4c8d" stroke-width="1"/>
<path d="M435.8,271.54H438.8M437.3,270.04V273.04" stroke="#2d4c8d" stroke-width="1"/>
<path d="M323.3,261.7H325.16V268.23H332.62V274.84H350.34V282.4H359.66V290.27H390.74V302.78H457" fill="none" stroke="#6cae3f" stroke-width="1.38" stroke-dasharray="2.6,2.4"/>
<path d="M344.1,274.84H347.1M345.6,273.34V276.34" stroke="#6cae3f" stroke-width="1"/>
<path d="M355.6,282.4H358.6M357.1,280.9V283.9" stroke="#6cae3f" stroke-width="1"/>
<path d="M363.3,290.27H366.3M364.8,288.77V291.77" stroke="#6cae3f" stroke-width="1"/>
<path d="M376.8,290.27H379.8M378.3,288.77V291.77" stroke="#6cae3f" stroke-width="1"/>
<path d="M419.39,302.78H422.39M420.89,301.28V304.28" stroke="#6cae3f" stroke-width="1"/>
<path d="M423.74,302.78H426.74M425.24,301.28V304.28" stroke="#6cae3f" stroke-width="1"/>
<path d="M455.5,302.78H458.5M457,301.28V304.28" stroke="#6cae3f" stroke-width="1"/>
<path d="M323.3,261.7H324.85V267.29H326.72V272.95H329.52V278.54H330.76V284.21H331.69V289.8H341.48V295.46H345.68V301.05H347.85V306.64H362.15V312.3H414.2" fill="none" stroke="#5c9edc" stroke-width="1.38" stroke-dasharray="6.4,4.2"/>
<path d="M347.6,306.64H350.6M349.1,305.14V308.14" stroke="#5c9edc" stroke-width="1"/>
<path d="M362.5,312.3H365.5M364,310.8V313.8" stroke="#5c9edc" stroke-width="1"/>
<path d="M385,312.3H388M386.5,310.8V313.8" stroke="#5c9edc" stroke-width="1"/>
<path d="M387,312.3H390M388.5,310.8V313.8" stroke="#5c9edc" stroke-width="1"/>
<path d="M412.7,312.3H415.7M414.2,310.8V313.8" stroke="#5c9edc" stroke-width="1"/>
<path d="M323,301.2H390.4V340.4" fill="none" stroke="#2a2a2a" stroke-width="1.05" stroke-dasharray="3.4,1.9"/>
<path d="M347.5,301.2V340.4" fill="none" stroke="#2a2a2a" stroke-width="1.05" stroke-dasharray="3.4,1.9"/>
<text x="398" y="331.7" font-size="7.5" textLength="31" lengthAdjust="spacingAndGlyphs">p <tspan font-weight="bold">=</tspan> 0.017</text>
<text x="315.8" y="381.8" font-size="7.4" fill="#111" stroke="#111" stroke-width="0.1" textLength="45.5" lengthAdjust="spacingAndGlyphs">Number at risk</text>
<text x="309.4" y="393.2" font-size="7.7" text-anchor="end" fill="#2d4c8d" textLength="48.8" lengthAdjust="spacingAndGlyphs">SRSF2+/IDH+</text>
<text x="323.3" y="392.9" font-size="7.9" text-anchor="middle" fill="#111" stroke="#111" stroke-width="0.1">10</text>
<text x="341.95" y="392.9" font-size="7.9" text-anchor="middle" fill="#111" stroke="#111" stroke-width="0.1">10</text>
<text x="360.6" y="392.9" font-size="7.9" text-anchor="middle" fill="#111" stroke="#111" stroke-width="0.1">9</text>
<text x="379.24" y="392.9" font-size="7.9" text-anchor="middle" fill="#111" stroke="#111" stroke-width="0.1">7</text>
<text x="397.89" y="392.9" font-size="7.9" text-anchor="middle" fill="#111" stroke="#111" stroke-width="0.1">5</text>
<text x="416.54" y="392.9" font-size="7.9" text-anchor="middle" fill="#111" stroke="#111" stroke-width="0.1">2</text>
<text x="435.19" y="392.9" font-size="7.9" text-anchor="middle" fill="#111" stroke="#111" stroke-width="0.1">1</text>
<text x="453.84" y="392.9" font-size="7.9" text-anchor="middle" fill="#111" stroke="#111" stroke-width="0.1">0</text>
<text x="472.48" y="392.9" font-size="7.9" text-anchor="middle" fill="#111" stroke="#111" stroke-width="0.1">0</text>
<text x="309.4" y="404.3" font-size="7.7" text-anchor="end" fill="#6cae3f" textLength="48.4" lengthAdjust="spacingAndGlyphs">SRSF2−/IDH+</text>
<text x="323.3" y="404" font-size="7.9" text-anchor="middle" fill="#111" stroke="#111" stroke-width="0.1">12</text>
<text x="341.95" y="404" font-size="7.9" text-anchor="middle" fill="#111" stroke="#111" stroke-width="0.1">10</text>
<text x="360.6" y="404" font-size="7.9" text-anchor="middle" fill="#111" stroke="#111" stroke-width="0.1">6</text>
<text x="379.24" y="404" font-size="7.9" text-anchor="middle" fill="#111" stroke="#111" stroke-width="0.1">4</text>
<text x="397.89" y="404" font-size="7.9" text-anchor="middle" fill="#111" stroke="#111" stroke-width="0.1">3</text>
<text x="416.54" y="404" font-size="7.9" text-anchor="middle" fill="#111" stroke="#111" stroke-width="0.1">3</text>
<text x="435.19" y="404" font-size="7.9" text-anchor="middle" fill="#111" stroke="#111" stroke-width="0.1">1</text>
<text x="453.84" y="404" font-size="7.9" text-anchor="middle" fill="#111" stroke="#111" stroke-width="0.1">1</text>
<text x="472.48" y="404" font-size="7.9" text-anchor="middle" fill="#111" stroke="#111" stroke-width="0.1">0</text>
<text x="309.4" y="415.5" font-size="7.7" text-anchor="end" fill="#5c9edc" textLength="47.6" lengthAdjust="spacingAndGlyphs">SRSF2+/IDH−</text>
<text x="323.3" y="415.2" font-size="7.9" text-anchor="middle" fill="#111" stroke="#111" stroke-width="0.1">14</text>
<text x="341.95" y="415.2" font-size="7.9" text-anchor="middle" fill="#111" stroke="#111" stroke-width="0.1">8</text>
<text x="360.6" y="415.2" font-size="7.9" text-anchor="middle" fill="#111" stroke="#111" stroke-width="0.1">6</text>
<text x="379.24" y="415.2" font-size="7.9" text-anchor="middle" fill="#111" stroke="#111" stroke-width="0.1">4</text>
<text x="397.89" y="415.2" font-size="7.9" text-anchor="middle" fill="#111" stroke="#111" stroke-width="0.1">2</text>
<text x="416.54" y="415.2" font-size="7.9" text-anchor="middle" fill="#111" stroke="#111" stroke-width="0.1">0</text>
<text x="435.19" y="415.2" font-size="7.9" text-anchor="middle" fill="#111" stroke="#111" stroke-width="0.1">0</text>
<text x="453.84" y="415.2" font-size="7.9" text-anchor="middle" fill="#111" stroke="#111" stroke-width="0.1">0</text>
<text x="472.48" y="415.2" font-size="7.9" text-anchor="middle" fill="#111" stroke="#111" stroke-width="0.1">0</text>
<rect x="0.7" y="0.7" width="518.6" height="422.6" fill="none" stroke="#000" stroke-width="1.4"/>
</svg>
</body></html>
